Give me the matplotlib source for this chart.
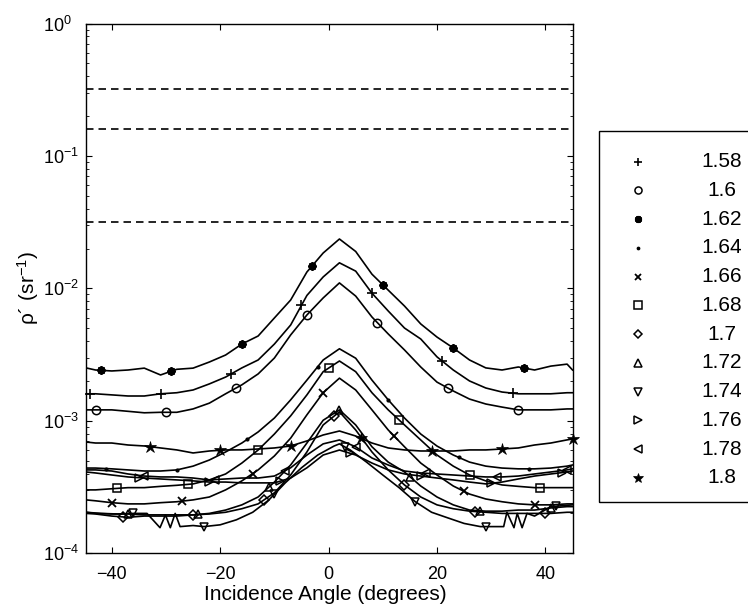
import numpy as np
import matplotlib
matplotlib.use('Agg')
import matplotlib.pyplot as plt
from matplotlib.patches import Rectangle
from matplotlib.lines import Line2D

# angle grid (degrees) shared by most curves
ANGLES = [-44.75, -43, -40, -37, -34, -31, -28, -25, -22, -19, -16, -13, -10, -7, -4, -1,
          2, 5, 8, 11, 14, 17, 20, 23, 26, 29, 32, 35, 38, 41, 44, 45]

RHO_158 = [1.60e-3, 1.60e-3, 1.57e-3, 1.54e-3, 1.54e-3, 1.60e-3, 1.63e-3, 1.71e-3, 1.90e-3, 2.14e-3,
           2.51e-3, 2.88e-3, 3.80e-3, 5.29e-3, 8.85e-3, 1.22e-2, 1.56e-2, 1.35e-2, 9.2e-3, 6.75e-3,
           5.02e-3, 4.15e-3, 3.04e-3, 2.42e-3, 2.00e-3, 1.77e-3, 1.65e-3, 1.60e-3, 1.60e-3, 1.60e-3,
           1.63e-3, 1.63e-3]
RHO_160 = [1.21e-3, 1.21e-3, 1.21e-3, 1.18e-3, 1.15e-3, 1.16e-3, 1.16e-3, 1.23e-3, 1.36e-3, 1.60e-3,
           1.87e-3, 2.26e-3, 2.98e-3, 4.45e-3, 6.30e-3, 8.47e-3, 1.10e-2, 8.75e-3, 6.08e-3, 4.53e-3,
           3.43e-3, 2.55e-3, 1.96e-3, 1.68e-3, 1.46e-3, 1.34e-3, 1.27e-3, 1.21e-3, 1.21e-3, 1.21e-3,
           1.23e-3, 1.23e-3]
RHO_162 = [2.51e-3, 2.42e-3, 2.38e-3, 2.42e-3, 2.50e-3, 2.22e-3, 2.45e-3, 2.50e-3, 2.78e-3, 3.14e-3,
           3.80e-3, 4.37e-3, 5.98e-3, 8.17e-3, 1.33e-2, 1.85e-2, 2.36e-2, 1.90e-2, 1.28e-2, 9.7e-3,
           7.36e-3, 5.39e-3, 4.29e-3, 3.55e-3, 2.88e-3, 2.51e-3, 2.42e-3, 2.55e-3, 2.42e-3, 2.59e-3,
           2.68e-3, 2.42e-3]
RHO_164 = [4.40e-4, 4.40e-4, 4.34e-4, 4.26e-4, 4.18e-4, 4.18e-4, 4.26e-4, 4.55e-4, 5.06e-4, 5.82e-4,
           6.80e-4, 8.24e-4, 1.05e-3, 1.44e-3, 2.03e-3, 2.88e-3, 3.50e-3, 2.97e-3, 2.03e-3, 1.44e-3,
           1.05e-3, 7.95e-4, 6.45e-4, 5.52e-4, 4.88e-4, 4.55e-4, 4.40e-4, 4.34e-4, 4.34e-4, 4.40e-4,
           4.55e-4, 4.64e-4]
RHO_166 = [2.53e-4, 2.49e-4, 2.41e-4, 2.36e-4, 2.36e-4, 2.41e-4, 2.45e-4, 2.53e-4, 2.66e-4, 3.01e-4,
           3.52e-4, 4.26e-4, 5.43e-4, 7.40e-4, 1.11e-3, 1.63e-3, 2.10e-3, 1.71e-3, 1.21e-3, 8.53e-4,
           6.37e-4, 4.80e-4, 3.90e-4, 3.22e-4, 2.80e-4, 2.57e-4, 2.45e-4, 2.36e-4, 2.32e-4, 2.32e-4,
           2.36e-4, 2.36e-4]
RHO_168 = [3.01e-4, 3.01e-4, 3.07e-4, 3.13e-4, 3.13e-4, 3.20e-4, 3.26e-4, 3.34e-4, 3.58e-4, 3.97e-4,
           4.80e-4, 6.02e-4, 7.95e-4, 1.09e-3, 1.57e-3, 2.35e-3, 2.83e-3, 2.35e-3, 1.63e-3, 1.21e-3,
           9.31e-4, 7.17e-4, 5.52e-4, 4.55e-4, 3.90e-4, 3.52e-4, 3.28e-4, 3.20e-4, 3.13e-4, 3.13e-4,
           3.13e-4, 3.13e-4]
RHO_170 = [2.00e-4, 1.98e-4, 1.91e-4, 1.87e-4, 1.91e-4, 1.91e-4, 1.91e-4, 1.95e-4, 1.98e-4, 2.04e-4,
           2.17e-4, 2.36e-4, 2.86e-4, 3.90e-4, 5.82e-4, 9.31e-4, 1.17e-3, 8.53e-4, 5.82e-4, 4.26e-4,
           3.28e-4, 2.66e-4, 2.32e-4, 2.17e-4, 2.08e-4, 2.04e-4, 2.00e-4, 2.00e-4, 2.00e-4, 2.00e-4,
           2.04e-4, 2.04e-4]
RHO_172 = [2.04e-4, 2.00e-4, 1.98e-4, 1.98e-4, 1.95e-4, 1.95e-4, 1.95e-4, 1.95e-4, 2.00e-4, 2.12e-4,
           2.32e-4, 2.66e-4, 3.45e-4, 4.64e-4, 6.80e-4, 1.01e-3, 1.21e-3, 9.31e-4, 6.37e-4, 4.88e-4,
           4.11e-4, 3.22e-4, 2.66e-4, 2.32e-4, 2.12e-4, 2.08e-4, 2.08e-4, 2.12e-4, 2.12e-4, 2.20e-4,
           2.25e-4, 2.25e-4]
# the 1.74 curve has its own finer grid (zig-zags at both ends)
ANGLES_174 = [-44.75, -42, -39, -36, -33.5, -31.1, -30.1, -29.2, -28.3, -27.4, -25, -23, -20, -17, -14,
              -11, -8, -5, -2, 1, 2, 4, 7, 10, 13, 16, 19, 22, 25, 28, 31, 32.3, 32.9, 34.2, 34.8,
              35.7, 36.6, 38, 41, 45]
RHO_174 = [2.04e-4, 2.00e-4, 1.98e-4, 2.00e-4, 2.00e-4, 1.56e-4, 1.95e-4, 1.56e-4, 2.00e-4, 1.59e-4,
           1.62e-4, 1.59e-4, 1.64e-4, 1.79e-4, 2.04e-4, 2.53e-4, 3.40e-4, 4.42e-4, 5.52e-4, 6.45e-4,
           6.70e-4, 6.02e-4, 4.88e-4, 3.90e-4, 3.13e-4, 2.45e-4, 2.04e-4, 1.85e-4, 1.68e-4, 1.59e-4,
           1.59e-4, 1.59e-4, 2.04e-4, 1.56e-4, 2.00e-4, 1.56e-4, 2.00e-4, 1.91e-4, 2.25e-4, 2.32e-4]
RHO_176 = [4.11e-4, 4.04e-4, 3.90e-4, 3.77e-4, 3.70e-4, 3.64e-4, 3.58e-4, 3.52e-4, 3.45e-4, 3.45e-4,
           3.40e-4, 3.40e-4, 3.40e-4, 3.70e-4, 4.42e-4, 5.52e-4, 6.02e-4, 5.52e-4, 4.80e-4, 4.26e-4,
           3.97e-4, 3.83e-4, 3.70e-4, 3.58e-4, 3.45e-4, 3.34e-4, 3.45e-4, 3.64e-4, 3.83e-4, 3.97e-4,
           4.11e-4, 4.18e-4]
RHO_178 = [4.26e-4, 4.26e-4, 4.18e-4, 3.97e-4, 3.83e-4, 3.77e-4, 3.77e-4, 3.70e-4, 3.58e-4, 3.64e-4,
           3.70e-4, 3.70e-4, 3.83e-4, 4.42e-4, 5.52e-4, 6.70e-4, 7.17e-4, 6.37e-4, 5.24e-4, 4.64e-4,
           4.18e-4, 4.04e-4, 3.97e-4, 3.90e-4, 3.83e-4, 3.77e-4, 3.77e-4, 3.83e-4, 3.97e-4, 4.11e-4,
           4.26e-4, 4.34e-4]
RHO_180 = [6.92e-4, 6.80e-4, 6.80e-4, 6.57e-4, 6.46e-4, 6.24e-4, 6.03e-4, 5.72e-4, 5.92e-4, 6.03e-4,
           6.03e-4, 6.13e-4, 6.24e-4, 6.46e-4, 7.05e-4, 7.82e-4, 8.38e-4, 7.68e-4, 6.80e-4, 6.24e-4,
           6.03e-4, 5.92e-4, 5.92e-4, 5.92e-4, 6.03e-4, 6.03e-4, 6.13e-4, 6.24e-4, 6.57e-4, 6.80e-4,
           7.18e-4, 7.30e-4]

LABELS = ['1.58', '1.6', '1.62', '1.64', '1.66', '1.68', '1.7', '1.72', '1.74', '1.76', '1.78', '1.8']
# first marked angle of each curve, then one marker every 13 degrees
MARKER_START = [-44, -43, -42, -41, -40, -39, -38, -37, -36, -35, -34, -33]
MARKER_STEP = 13

# Lambertian reference levels (1/pi, 0.5/pi, 0.1/pi)
DASHED_LEVELS = [0.318, 0.159, 0.0318]

MARKERS = ['+', 'o', (8, 2, 0), '.', 'x', 's', 'D', '^', 'v', '>', '<', '*']
LINHA = 1.2
FONTE_TICK = 13
FONTE_LABEL = 15


def estilo_marcador(m):
    """Marker keywords, matching the MATLAB look (open symbols, bold asterisk)."""
    kw = dict(marker=m, color='black', linestyle='none')
    if m in ('o', 's', 'D', '^', 'v', '>', '<'):
        kw.update(markersize=6 if m != 'D' else 5.2, markerfacecolor='none', markeredgewidth=1.1)
    elif m == '.':
        kw.update(markersize=4)
    elif m == '*':
        kw.update(markersize=9, markerfacecolor='black', markeredgewidth=0.5)
    elif m == '+':
        kw.update(markersize=7, markeredgewidth=1.2)
    elif m == 'x':
        kw.update(markersize=5.5, markeredgewidth=1.3)
    else:
        kw.update(markersize=6, markeredgewidth=1.5)
    return kw


def main():
    plt.rcParams['font.family'] = ['Liberation Sans', 'DejaVu Sans']
    plt.rcParams['mathtext.fontset'] = 'custom'
    plt.rcParams['mathtext.rm'] = 'Liberation Sans'
    plt.rcParams['mathtext.it'] = 'Liberation Sans:italic'

    series = [RHO_158, RHO_160, RHO_162, RHO_164, RHO_166, RHO_168,
              RHO_170, RHO_172, RHO_174, RHO_176, RHO_178, RHO_180]
    grids = [ANGLES] * 8 + [ANGLES_174] + [ANGLES] * 3

    fig = plt.figure(figsize=(7.48, 6.09), dpi=100)
    ax = fig.add_axes([0.1150, 0.0915, 0.6504, 0.8699])
    ax.set_yscale('log')

    for nivel in DASHED_LEVELS:
        ax.axhline(nivel, color='black', lw=LINHA, dashes=(4.5, 3))

    for i, (vals, ang) in enumerate(zip(series, grids)):
        ang = np.array(ang)
        vals = np.array(vals)
        ax.plot(ang, vals, color='black', lw=LINHA, zorder=3)
        mx = np.arange(MARKER_START[i], 45.01, MARKER_STEP)
        my = 10 ** np.interp(mx, ang, np.log10(vals))
        ax.plot(mx, my, clip_on=False, zorder=4, **estilo_marcador(MARKERS[i]))

    ax.set_xlim(-44.75, 45)
    ax.set_ylim(1e-4, 1)
    ax.set_xticks([-40, -20, 0, 20, 40])
    ax.set_yticks([1e-4, 1e-3, 1e-2, 1e-1, 1])
    ax.tick_params(which='both', direction='in', top=True, right=True, labelsize=FONTE_TICK)
    ax.tick_params(which='major', length=4.5, width=0.8)
    ax.tick_params(which='minor', length=2.5, width=0.6)
    ax.tick_params(axis='x', pad=9.3)
    ax.tick_params(axis='y', pad=31)
    for lbl in ax.get_yticklabels():
        lbl.set_horizontalalignment('left')
    for s in ax.spines.values():
        s.set_linewidth(1.0)

    ax.set_xlabel('Incidence Angle (degrees)', fontsize=FONTE_LABEL)
    ax.xaxis.set_label_coords(0.491, -0.059)
    ax.set_ylabel('ρ´ (sr$^{-1}$)', fontsize=FONTE_LABEL)
    ax.yaxis.set_label_coords(-0.092, 0.5)

    # legend box drawn by hand so the labels can be centred like the original
    W, H = 748.0, 609.0
    def fx(px):
        return px / W
    def fy(py):
        return 1 - py / H
    caixa = Rectangle((fx(599), fy(502)), fx(775) - fx(599), fy(131) - fy(502),
                      transform=fig.transFigure, fill=False, edgecolor='black', lw=1.0, clip_on=False)
    fig.add_artist(caixa)
    for i, lab in enumerate(LABELS):
        yy = fy(161.7 + i * 28.75)
        kw = estilo_marcador(MARKERS[i])
        kw['markersize'] = kw['markersize'] * 0.85
        fig.add_artist(Line2D([fx(638)], [yy], transform=fig.transFigure, **kw))
        fig.text(fx(722), yy, lab, ha='center', va='center', fontsize=FONTE_LABEL)

    fig.savefig('out.png', dpi=100)
    plt.close(fig)


if __name__ == '__main__':
    main()
